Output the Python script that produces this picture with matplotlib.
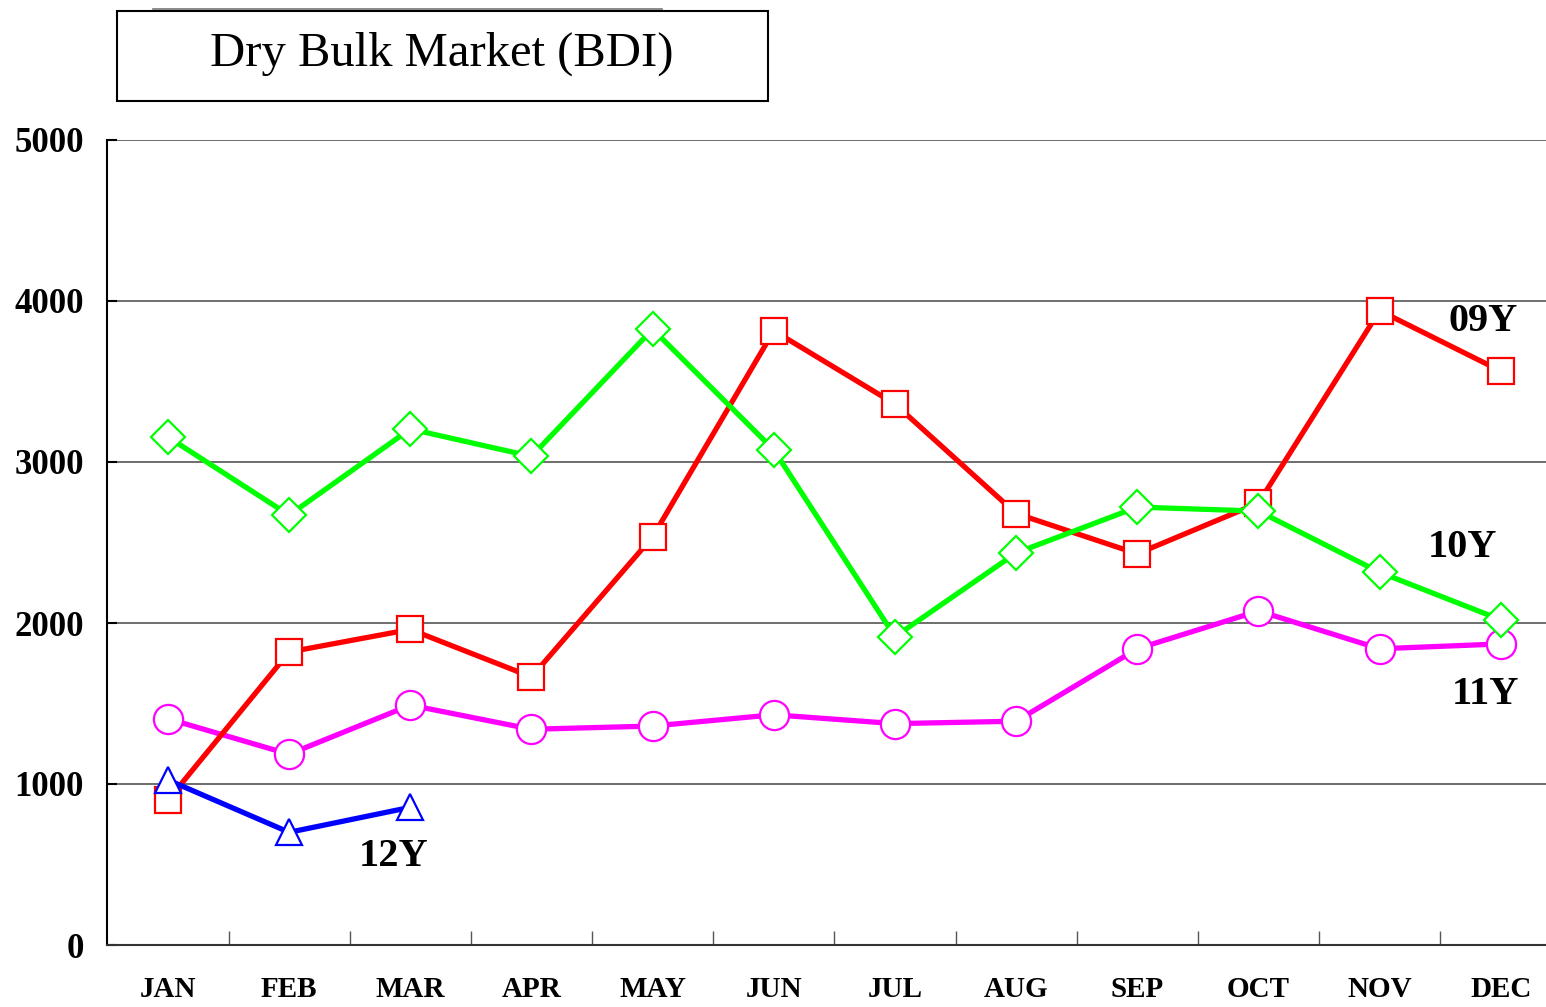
import matplotlib
matplotlib.use("Agg")
import matplotlib.pyplot as plt
from matplotlib.patches import Rectangle
from matplotlib.lines import Line2D

months = ['JAN', 'FEB', 'MAR', 'APR', 'MAY', 'JUN', 'JUL', 'AUG', 'SEP', 'OCT', 'NOV', 'DEC']
bdi_09 = [900, 1820, 1960, 1665, 2535, 3815, 3360, 2680, 2430, 2745, 3940, 3565]
bdi_10 = [3155, 2670, 3205, 3035, 3825, 3075, 1915, 2435, 2720, 2695, 2315, 2020]
bdi_11 = [1405, 1185, 1490, 1340, 1360, 1430, 1375, 1390, 1840, 2075, 1840, 1870]
bdi_12 = [1025, 700, 855]
yticks = [0, 1000, 2000, 3000, 4000, 5000]

SERIF = 'Liberation Serif'


def main():
    fig = plt.figure(figsize=(15.46, 10.07), dpi=100)
    ax = fig.add_axes([107.4 / 1546, 62 / 1007, 1454 / 1546, 805 / 1007])

    x = list(range(len(months)))
    common = dict(lw=3.8, mfc='white', mew=1.6)
    ax.plot(x, bdi_11, color='#ff00ff', marker='o', ms=21, zorder=3, **common)
    ax.plot(x, bdi_09, color='#ff0000', marker='s', ms=18.5, zorder=4, **common)
    ax.plot(x, bdi_10, color='#00ff00', marker='D', ms=17.5, zorder=5, **common)
    ax.plot(x[:len(bdi_12)], bdi_12, color='#0000ff', marker='^', ms=19, zorder=6, **common)

    lab = dict(fontfamily=SERIF, fontweight='bold', fontsize=29, ha='center', va='center')
    ax.text(10.85, 3870, '09Y', **lab)
    ax.text(10.68, 2466, '10Y', **lab)
    ax.text(10.87, 1553, '11Y', **lab)
    ax.text(1.86, 547, '12Y', **lab)

    ax.set_xlim(-0.5, 11.5)
    ax.set_ylim(0, 5000)
    ax.set_yticks(yticks)
    ax.set_yticklabels([str(v) for v in yticks], fontfamily=SERIF, fontweight='bold', fontsize=25)
    ax.set_xticks([i + 0.5 for i in range(11)])
    ax.set_xticklabels([])
    ax.set_xticks(x, minor=True)
    ax.set_xticklabels(months, minor=True, fontfamily=SERIF, fontweight='bold', fontsize=21)
    ax.tick_params(axis='x', which='major', direction='in', length=10, width=1, color='#555555')
    ax.tick_params(axis='x', which='minor', length=0, pad=22)
    ax.tick_params(axis='y', direction='in', length=7, width=1.5, pad=17)
    ax.grid(axis='y', color='#555555', lw=1.2)
    ax.set_axisbelow(True)
    for s in ['top', 'right']:
        ax.spines[s].set_visible(False)
    ax.spines['left'].set_linewidth(1.5)
    ax.spines['bottom'].set_linewidth(1.5)
    ax.spines['bottom'].set_color('#333333')

    # title box
    fig.add_artist(Line2D([153 / 1546, 662 / 1546], [1 - 9 / 1007, 1 - 9 / 1007],
                          color='#777777', lw=1.2))
    fig.add_artist(Rectangle((117 / 1546, 1 - 101 / 1007), 651 / 1546, 90 / 1007,
                             fill=True, facecolor='white', edgecolor='black', lw=1.5))
    fig.text(442 / 1546, 1 - 54 / 1007, 'Dry Bulk Market (BDI)', fontfamily=SERIF,
             fontsize=35, ha='center', va='center')

    fig.savefig('out.png', dpi=100)


if __name__ == '__main__':
    main()
